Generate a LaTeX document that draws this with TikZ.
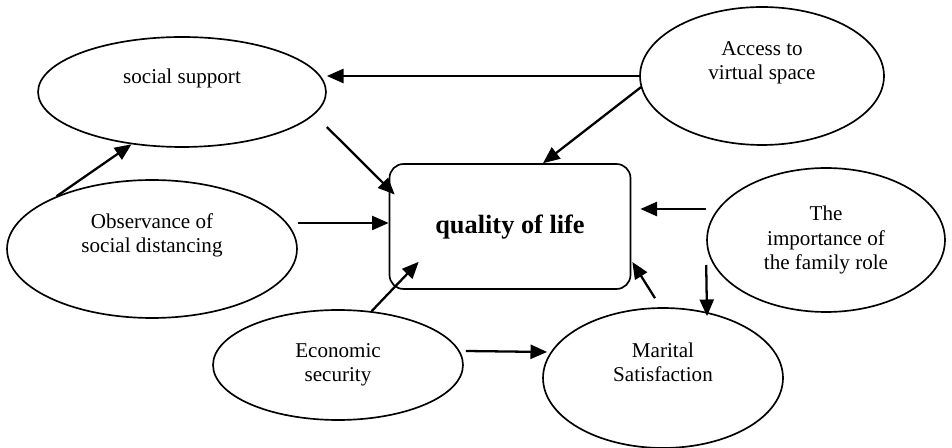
\documentclass[tikz,border=0pt]{standalone}
\usepackage{fontspec}
\setmainfont{Liberation Serif}
\usetikzlibrary{arrows.meta}
\usetikzlibrary{shapes.geometric, positioning, calc}

\begin{document}
\begin{tikzpicture}[x=0.02cm, y=-0.02cm,
        factor/.style={ellipse, draw=black, line width=0.95pt, inner sep=0pt, align=center, font=\fontsize{12}{13.7}\selectfont},
        link/.style={->, line width=1.3pt},
        >={Triangle[length=9.5pt, width=8pt]}]
        \useasboundingbox (0, 0) rectangle (952, 448);

        \node[factor, minimum width=5.76cm, minimum height=2.2cm] (soc) at (182, 92) {social support\\\strut};
        \node[factor, minimum width=5.8cm, minimum height=2.76cm] (obs) at (152, 249) {Observance of\\social distancing\\\strut};
        \node[factor, minimum width=4.88cm, minimum height=2.76cm] (acc) at (762, 76) {Access to\\virtual space\\\strut};
        \node[factor, minimum width=4.76cm, minimum height=2.88cm] (imp) at (826, 240) {The\\importance of\\the family role};
        \node[factor, minimum width=5cm, minimum height=2.2cm] (eco) at (338, 365) {Economic\\security};
        \node[factor, minimum width=4.8cm, minimum height=2.8cm] (mar) at (663, 378) {Marital\\Satisfaction\\\strut};
        \node[draw=black, line width=0.95pt, rounded corners=0.28cm, minimum width=4.82cm, minimum height=2.5cm, text height=1.08em,
              font=\fontsize{15}{18}\selectfont\bfseries] (qol) at (510, 226.5) {quality of life};

        \draw[link] (acc.west) -- (soc.east |- acc.west);
        \draw[link] ($(acc.west)+(2,11)$) -- ($(qol.north)+(33,0)$);
        \draw[link] ($(soc.east)+(0,35)$) -- ($(qol.west)+(6,-32)$);
        \draw[link] (obs.151) -- (soc.226);
        \draw[link] ($(obs.east)+(0,-26)$) -- ($(qol.west)+(0,-3.5)$);
        \draw[link] (eco.58) -- ($(qol.south west)+(30,-28)$);
        \draw[link] ($(eco.east)+(2,-14)$) -- ($(mar.west)+(5,-26)$);
        \draw[link] ($(mar.north)+(-8,-9)$) -- ($(qol.east)+(1,35.5)$);
        \draw[link] ($(imp.west)+(0,-31)$) -- ($(qol.east)+(9,-17.5)$);
        \draw[link] ($(imp.west)+(0,25)$) -- ($(mar.north)+(44,9)$);

      \end{tikzpicture}
\end{document}
